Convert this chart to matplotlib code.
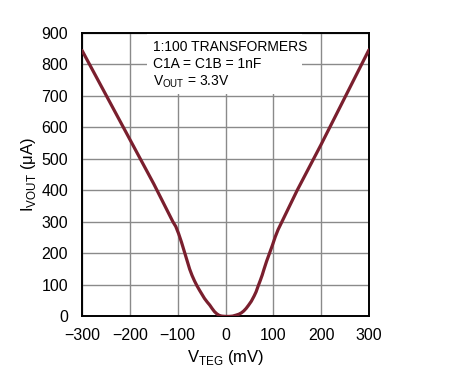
import matplotlib
matplotlib.use("Agg")
import matplotlib.pyplot as plt
from matplotlib.patches import Rectangle

plt.rcParams['font.family'] = ['Liberation Sans Narrow', 'Liberation Sans', 'DejaVu Sans']
plt.rcParams['mathtext.fontset'] = 'custom'
plt.rcParams['mathtext.rm'] = 'Liberation Sans'

# curve
v_teg = [-300, -250, -200, -150, -110, -104, -98, -92, -86, -80, -75, -70, -65, -60, -54,
         -48, -44, -38, -33, -28, -23, -18, -13, -8, 0, 8, 15, 22, 28, 33, 38, 43, 48, 54,
         60, 64, 68, 73, 77, 80, 86, 92, 98, 104, 110, 118, 150, 200, 250, 300]
i_vout = [843, 702, 561, 420, 300, 285, 262, 235, 205, 175, 150, 130, 113, 98, 82,
          67, 57, 45, 36, 25, 15, 8, 3, 1, 0, 0, 1, 4, 7, 11, 17, 25, 35, 48,
          65, 78, 95, 115, 132, 147, 175, 200, 225, 252, 275, 300, 400, 545, 695, 845]

x_ticks = [-300, -200, -100, 0, 100, 200, 300]
x_labels = ['\u2212300', '\u2212200', '\u2212100', '0', '100', '200', '300']
y_ticks = [0, 100, 200, 300, 400, 500, 600, 700, 800, 900]

fig = plt.figure(figsize=(4.51, 3.74), dpi=100)
ax = fig.add_axes([0.182, 0.154, 0.636, 0.759])

ax.plot(v_teg, i_vout, color='#7a1f2e', linewidth=2.3, zorder=3,
        solid_joinstyle='round', solid_capstyle='round')

# white box behind the notes
ax.add_patch(Rectangle((-165, 705), 325, 200, facecolor='white', edgecolor='none', zorder=1))
ax.text(-152, 855, '1:100 TRANSFORMERS', fontsize=10, va='center', zorder=2)
ax.text(-152, 800, 'C1A = C1B = 1nF', fontsize=10, va='center', zorder=2)
ax.text(-152, 744, r'V$_{\mathregular{OUT}}$ = 3.3V', fontsize=10, va='center', zorder=2)

ax.set_xlim(-300, 300)
ax.set_ylim(0, 900)
ax.set_xticks(x_ticks)
ax.set_xticklabels(x_labels)
ax.set_yticks(y_ticks)
ax.tick_params(length=0, labelsize=11.5, pad=8)
ax.tick_params(axis='y', pad=10)
ax.set_axisbelow(True)
ax.grid(True, color='#8a8a8a', linewidth=1.0)
for s in ax.spines.values():
    s.set_linewidth(1.4)

ax.set_xlabel(r'V$_{\mathregular{TEG}}$ (mV)', fontsize=12, labelpad=4)
ax.set_ylabel(r'I$_{\mathregular{VOUT}}$ ($\mathregular{\mu}$A)', fontsize=12)
ax.yaxis.set_label_coords(-0.155, 0.5)

fig.savefig('out.png', dpi=100)
